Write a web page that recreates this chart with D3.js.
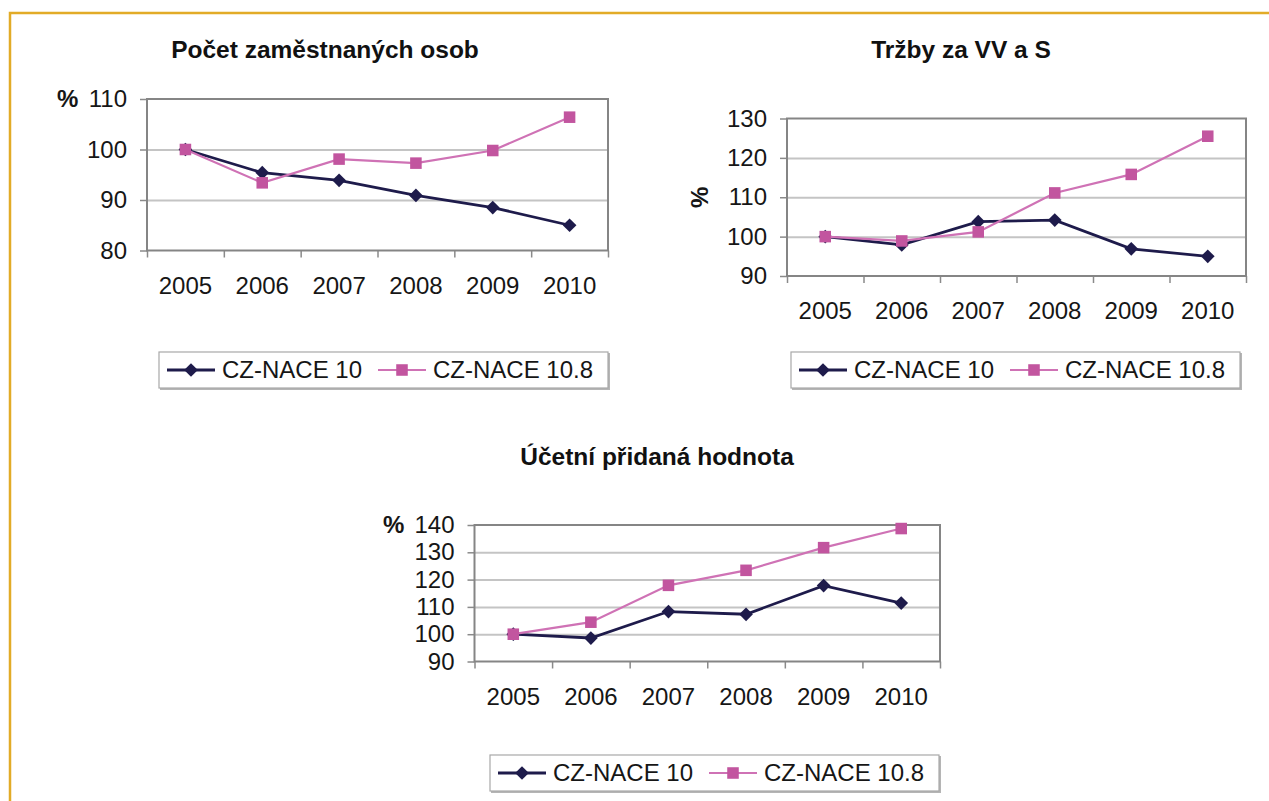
<!DOCTYPE html>
<html>
<head>
<meta charset="utf-8">
<script src="https://cdn.jsdelivr.net/npm/d3@7"></script>
<style>
    body { margin: 0; background: #fff; }
    svg { display: block; font-family: "Liberation Sans", Arial, sans-serif; }
    .tick text { fill: #161616; }
</style>
</head>
<body>
<div id="page"></div>
<script>
// Data (index 2005 = 100)
var years = ["2005", "2006", "2007", "2008", "2009", "2010"];
var seriesNames = ["CZ-NACE 10", "CZ-NACE 10.8"];

var employeesNace10 = [100, 95.4, 93.9, 90.9, 88.5, 85.0];
var employeesNace108 = [100, 93.4, 98.1, 97.3, 99.8, 106.4];
var employeesTicks = [80, 90, 100, 110];

var salesNace10 = [100, 97.9, 103.8, 104.2, 96.9, 95.0];
var salesNace108 = [100, 98.9, 101.2, 111.1, 115.8, 125.5];
var salesTicks = [90, 100, 110, 120, 130];

var addedNace10 = [100, 98.6, 108.3, 107.3, 117.8, 111.4];
var addedNace108 = [100, 104.4, 117.9, 123.4, 131.7, 138.7];
var addedTicks = [90, 100, 110, 120, 130, 140];

var width = 1269;
var height = 801;
var navy = "#1e1b4b";
var pink = "#c2559f";
var pinkLine = "#cf72b5";

var svg = d3.select("#page")
    .append("svg")
    .attr("width", width)
    .attr("height", height);

// orange page frame
svg.append("path")
    .attr("d", "M10,801 L10,13 L1269,13")
    .attr("fill", "none")
    .attr("stroke", "#e2ab27")
    .attr("stroke-width", 2.5);

var charts = [
    {title: "Počet zaměstnaných osob", titleX: 325, titleY: 58,
     left: 147, right: 608, top: 99, bottom: 250.5,
     ticks: employeesTicks, s10: employeesNace10, s108: employeesNace108,
     pct: "inline", pctX: 57,
     legendX: 159, legendY: 352},
    {title: "Tržby za VV a S", titleX: 961, titleY: 58,
     left: 787, right: 1246, top: 118.5, bottom: 276,
     ticks: salesTicks, s10: salesNace10, s108: salesNace108,
     pct: "rotated", pctX: 700,
     legendX: 791, legendY: 352},
    {title: "Účetní přidaná hodnota", titleX: 657, titleY: 465,
     left: 474.5, right: 940, top: 525, bottom: 661.5,
     ticks: addedTicks, s10: addedNace10, s108: addedNace108,
     pct: "inline", pctX: 383,
     legendX: 490, legendY: 755}
];

charts.forEach(drawChart);

function drawChart(c) {
    var g = svg.append("g");

    var xScale = d3.scaleBand().domain(years).range([c.left, c.right]);
    var yScale = d3.scaleLinear()
        .domain(d3.extent(c.ticks))
        .range([c.bottom, c.top]);

    // title
    g.append("text")
        .attr("x", c.titleX)
        .attr("y", c.titleY)
        .attr("text-anchor", "middle")
        .attr("font-size", 24.5)
        .attr("font-weight", "bold")
        .attr("fill", "#111")
        .text(c.title);

    g.append("rect")
        .attr("x", c.left).attr("y", c.top)
        .attr("width", c.right - c.left).attr("height", c.bottom - c.top)
        .attr("fill", "#fff");

    // gridlines
    var grid = g.append("g")
        .attr("transform", `translate(${c.left},0)`)
        .call(d3.axisLeft(yScale).tickValues(c.ticks.slice(1, -1))
            .tickSize(-(c.right - c.left)).tickFormat(""));
    grid.select(".domain").remove();
    grid.selectAll("line").attr("stroke", "#c4c4c4").attr("stroke-width", 2);

    // y axis
    var yAxis = g.append("g")
        .attr("transform", `translate(${c.left},0)`)
        .call(d3.axisLeft(yScale).tickValues(c.ticks).tickSize(7).tickPadding(13));
    yAxis.select(".domain").remove();
    yAxis.selectAll("line").attr("stroke", "#8a8a8a").attr("stroke-width", 1.5);
    yAxis.selectAll("text").attr("font-size", 24).attr("font-family", null);

    // x tick marks at category boundaries
    var edge = d3.scaleLinear().domain([0, years.length]).range([c.left, c.right]);
    var xMarks = g.append("g")
        .attr("transform", `translate(0,${c.bottom})`)
        .call(d3.axisBottom(edge).ticks(years.length).tickSize(7).tickFormat(""));
    xMarks.select(".domain").remove();
    xMarks.selectAll("line").attr("stroke", "#8a8a8a").attr("stroke-width", 1.5);

    // x labels
    var xAxis = g.append("g")
        .attr("transform", `translate(0,${c.bottom})`)
        .call(d3.axisBottom(xScale).tickSize(0).tickPadding(26));
    xAxis.select(".domain").remove();
    xAxis.selectAll("text").attr("font-size", 24).attr("font-family", null);

    // plot frame
    g.append("rect")
        .attr("x", c.left).attr("y", c.top)
        .attr("width", c.right - c.left).attr("height", c.bottom - c.top)
        .attr("fill", "none")
        .attr("stroke", "#858585")
        .attr("stroke-width", 2);

    // % label
    if (c.pct === "inline") {
        g.append("text")
            .attr("x", c.pctX)
            .attr("y", yScale(c.ticks[c.ticks.length - 1]))
            .attr("dy", "0.32em")
            .attr("font-size", 24)
            .attr("font-weight", "bold")
            .attr("fill", "#161616")
            .text("%");
    } else {
        g.append("text")
            .attr("transform", `translate(${c.pctX},${(c.top + c.bottom) / 2}) rotate(-90)`)
            .attr("text-anchor", "middle")
            .attr("dy", "0.35em")
            .attr("font-size", 24)
            .attr("font-weight", "bold")
            .attr("fill", "#161616")
            .text("%");
    }

    var cx = function (d, i) { return xScale(years[i]) + xScale.bandwidth() / 2; };
    var line = d3.line()
        .x(function (d, i) { return cx(d, i); })
        .y(function (d) { return yScale(d); });

    var diamond = d3.symbol().type(d3.symbolDiamond2).size(120);
    var square = d3.symbol().type(d3.symbolSquare2).size(170);

    // CZ-NACE 10
    g.append("path")
        .attr("d", line(c.s10))
        .attr("fill", "none")
        .attr("stroke", navy)
        .attr("stroke-width", 2.8);
    g.selectAll("path.m10").data(c.s10).enter()
        .append("path")
        .attr("class", "m10")
        .attr("d", diamond)
        .attr("transform", function (d, i) { return `translate(${cx(d, i)},${yScale(d)})`; })
        .attr("fill", navy);

    // CZ-NACE 10.8
    g.append("path")
        .attr("d", line(c.s108))
        .attr("fill", "none")
        .attr("stroke", pinkLine)
        .attr("stroke-width", 2.2);
    g.selectAll("path.m108").data(c.s108).enter()
        .append("path")
        .attr("class", "m108")
        .attr("d", square)
        .attr("transform", function (d, i) { return `translate(${cx(d, i)},${yScale(d)})`; })
        .attr("fill", pink);

    // legend
    var lg = g.append("g").attr("transform", `translate(${c.legendX},${c.legendY})`);
    lg.append("rect")
        .attr("x", 1).attr("y", 1).attr("width", 450).attr("height", 37)
        .attr("fill", "#b5b5b5");
    lg.append("rect")
        .attr("width", 449).attr("height", 36)
        .attr("fill", "#fff")
        .attr("stroke", "#a8a8a8")
        .attr("stroke-width", 1.2);

    var items = [
        {name: seriesNames[0], x: 8, color: navy, lineColor: navy, shape: diamond, w: 2.8},
        {name: seriesNames[1], x: 219, color: pink, lineColor: pinkLine, shape: square, w: 2.2}
    ];
    items.forEach(function (it) {
        lg.append("line")
            .attr("x1", it.x).attr("x2", it.x + 48)
            .attr("y1", 18).attr("y2", 18)
            .attr("stroke", it.lineColor)
            .attr("stroke-width", it.w);
        lg.append("path")
            .attr("d", it.shape)
            .attr("transform", `translate(${it.x + 24},18)`)
            .attr("fill", it.color);
        lg.append("text")
            .attr("x", it.x + 55)
            .attr("y", 18)
            .attr("dy", "0.35em")
            .attr("font-size", 24)
            .attr("fill", "#161616")
            .text(it.name);
    });
}
</script>
</body>
</html>
